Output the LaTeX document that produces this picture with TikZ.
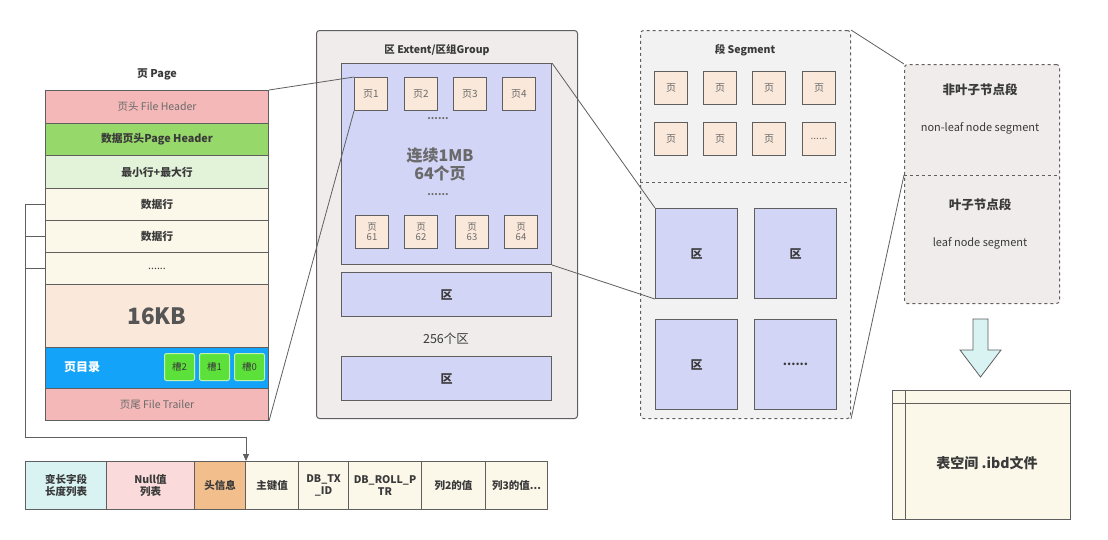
\documentclass[tikz,border=0pt]{standalone}
\usepackage{fontspec}
\setmainfont{Noto Sans CJK SC}
\usetikzlibrary{arrows.meta}
\definecolor{linegray}{HTML}{5F5F5F}
\definecolor{txtgray}{HTML}{3A3A3A}
\definecolor{lightgray}{HTML}{6A6A6A}
\definecolor{hdrpink}{HTML}{F4B8B8}
\definecolor{hdrgreen}{HTML}{97D86A}
\definecolor{palegreen}{HTML}{E3F3DA}
\definecolor{cream}{HTML}{FBF7E9}
\definecolor{peach}{HTML}{FAE8DA}
\definecolor{dirblue}{HTML}{13A3F8}
\definecolor{slotgreen}{HTML}{5CE13A}
\definecolor{extblue}{HTML}{D3D5F7}
\definecolor{boxgray}{HTML}{F0ECEB}
\definecolor{seggray}{HTML}{F2F2F2}
\definecolor{cyanpale}{HTML}{D9F3F3}
\definecolor{nullpink}{HTML}{FADADA}
\definecolor{hdrorange}{HTML}{F2BE8C}
\tikzset{
  cell/.style={draw=linegray, line width=1pt, inner sep=0pt, anchor=north west,
    text=txtgray, align=center, font=\fontsize{10.5}{12}\selectfont},
  pg/.style={cell, fill=peach, minimum width=33pt, minimum height=33pt, text=lightgray,
    font=\fontsize{10}{11}\selectfont},
  ext/.style={cell, fill=extblue, font=\fontsize{12}{14}\selectfont\bfseries},
  rowcell/.style={cell, minimum height=48pt, font=\fontsize{10.5}{12.5}\selectfont\bfseries},
  conn/.style={draw=linegray, line width=.8pt},
}
\begin{document}
\begin{tikzpicture}[x=1pt,y=-1pt]
  \useasboundingbox[fill=white] (0,0) rectangle (1108,539);
  % page
  \node[font=\fontsize{10.8}{12}\selectfont\bfseries, text=txtgray] (pgtitle) at (157,74) {页 Page};
  \node[cell, fill=hdrpink, minimum width=223pt, minimum height=33pt, text=lightgray] (fh) at (45,90) {页头 File Header};
  \node[cell, fill=hdrgreen, minimum width=223pt, minimum height=32pt, font=\fontsize{10.8}{12}\selectfont\bfseries] (ph) at (45,123) {数据页头Page Header};
  \node[cell, fill=palegreen, minimum width=223pt, minimum height=33pt, font=\fontsize{10.8}{12}\selectfont\bfseries] (mm) at (45,155) {最小行+最大行};
  \node[cell, fill=cream, minimum width=223pt, minimum height=32pt, font=\fontsize{10.8}{12}\selectfont\bfseries] (dr1) at (45,188) {数据行};
  \node[cell, fill=cream, minimum width=223pt, minimum height=32pt, font=\fontsize{10.8}{12}\selectfont\bfseries] (dr2) at (45,220) {数据行};
  \node[cell, fill=cream, minimum width=223pt, minimum height=32pt] (dr3) at (45,252) {......};
  \node[cell, fill=peach, minimum width=223pt, minimum height=63pt, text=lightgray!80!black, font=\fontsize{22.5}{26}\selectfont\bfseries] (kb) at (45,284) {16KB};
  \node[cell, fill=dirblue, minimum width=223pt, minimum height=41pt] (dir) at (45,347) {};
  \node[text=white, font=\fontsize{12}{14}\selectfont\bfseries] (dirtxt) at (82,367.5) {页目录};
  \foreach \s/\x in {2/164,1/199,0/234}{
    \node[cell, fill=slotgreen, draw=slotgreen!40!white, rounded corners=2pt, minimum width=30pt, minimum height=27pt, font=\fontsize{9.5}{11}\selectfont] (slot\s) at (\x,353) {槽\s};
  }
  \node[cell, fill=hdrpink, minimum width=223pt, minimum height=32pt, text=lightgray] (ft) at (45,388) {页尾 File Trailer};

  % extent
  \node[cell, fill=boxgray, rounded corners=3pt, minimum width=261pt, minimum height=388pt] (extgrp) at (316,30) {};
  \node[font=\fontsize{10.5}{12}\selectfont\bfseries, text=txtgray] (exttitle) at (437,50) {区 Extent/区组Group};
  \node[cell, fill=extblue, minimum width=210pt, minimum height=201pt] (ext) at (341,63) {};
  \foreach \n/\x in {1/354,2/404,3/453,4/502}{
    \node[pg] (p\n) at (\x,77) {页\n};
  }
  \foreach \n/\x in {61/355,62/404,63/455,64/504}{
    \node[pg, font=\fontsize{9.5}{10.5}\selectfont] (p\n) at (\x,215) {页\\\n};
  }
  \node[text=lightgray, font=\fontsize{10}{11}\selectfont\bfseries] (dotsa) at (438,119) {......};
  \node[text=lightgray, font=\fontsize{16}{18}\selectfont\bfseries, align=center] (mb) at (440,164) {连续1MB\\64个页};
  \node[text=lightgray, font=\fontsize{10}{11}\selectfont\bfseries] (dotsb) at (438,195) {......};
  \node[ext, minimum width=210pt, minimum height=44pt] (exta) at (341,272) {区};
  \node[text=txtgray, font=\fontsize{12.5}{14}\selectfont] (cnt) at (446,339) {256个区};
  \node[ext, minimum width=210pt, minimum height=44pt] (extb) at (341,356) {区};

  % segment
  \node[cell, fill=seggray, dashed, rounded corners=3pt, minimum width=210pt, minimum height=388pt] (seg) at (640,30) {};
  \draw[linegray, dashed, line width=1pt] (640,182) -- (850,182);
  \node[font=\fontsize{10.5}{12}\selectfont\bfseries, text=txtgray] (segtitle) at (745,50) {段 Segment};
  \foreach \i/\x in {1/654,2/703,3/752,4/802}{
    \node[pg] (sa\i) at (\x,71) {页};
  }
  \foreach \i/\x in {1/654,2/703,3/752}{
    \node[pg] (sb\i) at (\x,122) {页};
  }
  \node[pg] (sb4) at (802,122) {......};
  \node[ext, minimum width=82pt, minimum height=90pt] (ea) at (655,208) {区};
  \node[ext, minimum width=82pt, minimum height=90pt] (eb) at (754,208) {区};
  \node[ext, minimum width=82pt, minimum height=90pt] (ec) at (655,319) {区};
  \node[ext, minimum width=82pt, minimum height=90pt] (ed) at (754,319) {......};

  % leaf / non-leaf
  \node[cell, fill=boxgray, dashed, rounded corners=3pt, minimum width=155pt, minimum height=239pt] (lf) at (904,64) {};
  \draw[linegray, dashed, line width=1pt] (904,175) -- (1059,175);
  \coordinate (lfmid) at (904,175);
  \node[font=\fontsize{12.5}{14}\selectfont\bfseries, text=txtgray] (nl) at (980,90) {非叶子节点段};
  \node[font=\fontsize{11}{13}\selectfont, text=txtgray] (nle) at (980,128) {non-leaf node segment};
  \node[font=\fontsize{12.5}{14}\selectfont\bfseries, text=txtgray] (lfn) at (980,205) {叶子节点段};
  \node[font=\fontsize{11}{13}\selectfont, text=txtgray] (lfe) at (980,243) {leaf node segment};

  \draw[draw=linegray, fill=cyanpale, line width=.8pt] (973,319) -- (988,319) -- (988,350) -- (1001,350) -- (980.5,377) -- (960,350) -- (973,350) -- cycle;

  \node[cell, fill=cream, minimum width=178pt, minimum height=129pt] (ibd) at (892,390) {};
  \draw[linegray, line width=1pt] (892,403) -- (1070,403) (905,390) -- (905,519);
  \node[font=\fontsize{14}{16}\selectfont\bfseries, text=txtgray] (ibdtxt) at (987,463) {表空间 .ibd文件};

  % row format
  \node[rowcell, fill=cyanpale, minimum width=81pt] (c1) at (25,461) {变长字段\\长度列表};
  \node[rowcell, fill=nullpink, minimum width=88pt] (c2) at (106,461) {Null值\\列表};
  \node[rowcell, fill=hdrorange, minimum width=51pt] (c3) at (194,461) {头信息};
  \node[rowcell, fill=cream, minimum width=53pt] (c4) at (245,461) {主键值};
  \node[rowcell, fill=cream, minimum width=50pt] (c5) at (298,461) {DB\_TX\\\_ID};
  \node[rowcell, fill=cream, minimum width=73pt] (c6) at (348,461) {DB\_ROLL\_P\\TR};
  \node[rowcell, fill=cream, minimum width=64pt] (c7) at (421,461) {列2的值};
  \node[rowcell, fill=cream, minimum width=62pt] (c8) at (485,461) {列3的值...};

  % connectors
  \coordinate (brk) at (25,437);
  \draw[conn] (dr1.west) -- (dr1.west -| brk) -- (brk);
  \draw[conn] (dr2.west) -- (dr2.west -| brk);
  \draw[conn] (dr3.west) -- (dr3.west -| brk);
  \draw[conn, -{Triangle[length=7pt,width=6pt]}] (brk) -| (c3.north east);
  \draw[conn] (fh.north east) -- (p1.north west);
  \draw[conn] (ft.south east) -- (p1.south west);
  \draw[conn] (ext.north east) -- (ea.north west);
  \draw[conn] (ext.south east) -- (ea.south west);
  \draw[conn] (seg.north east) -- (lf.north west);
  \draw[conn] (seg.south east) -- (lfmid);
\end{tikzpicture}
\end{document}
